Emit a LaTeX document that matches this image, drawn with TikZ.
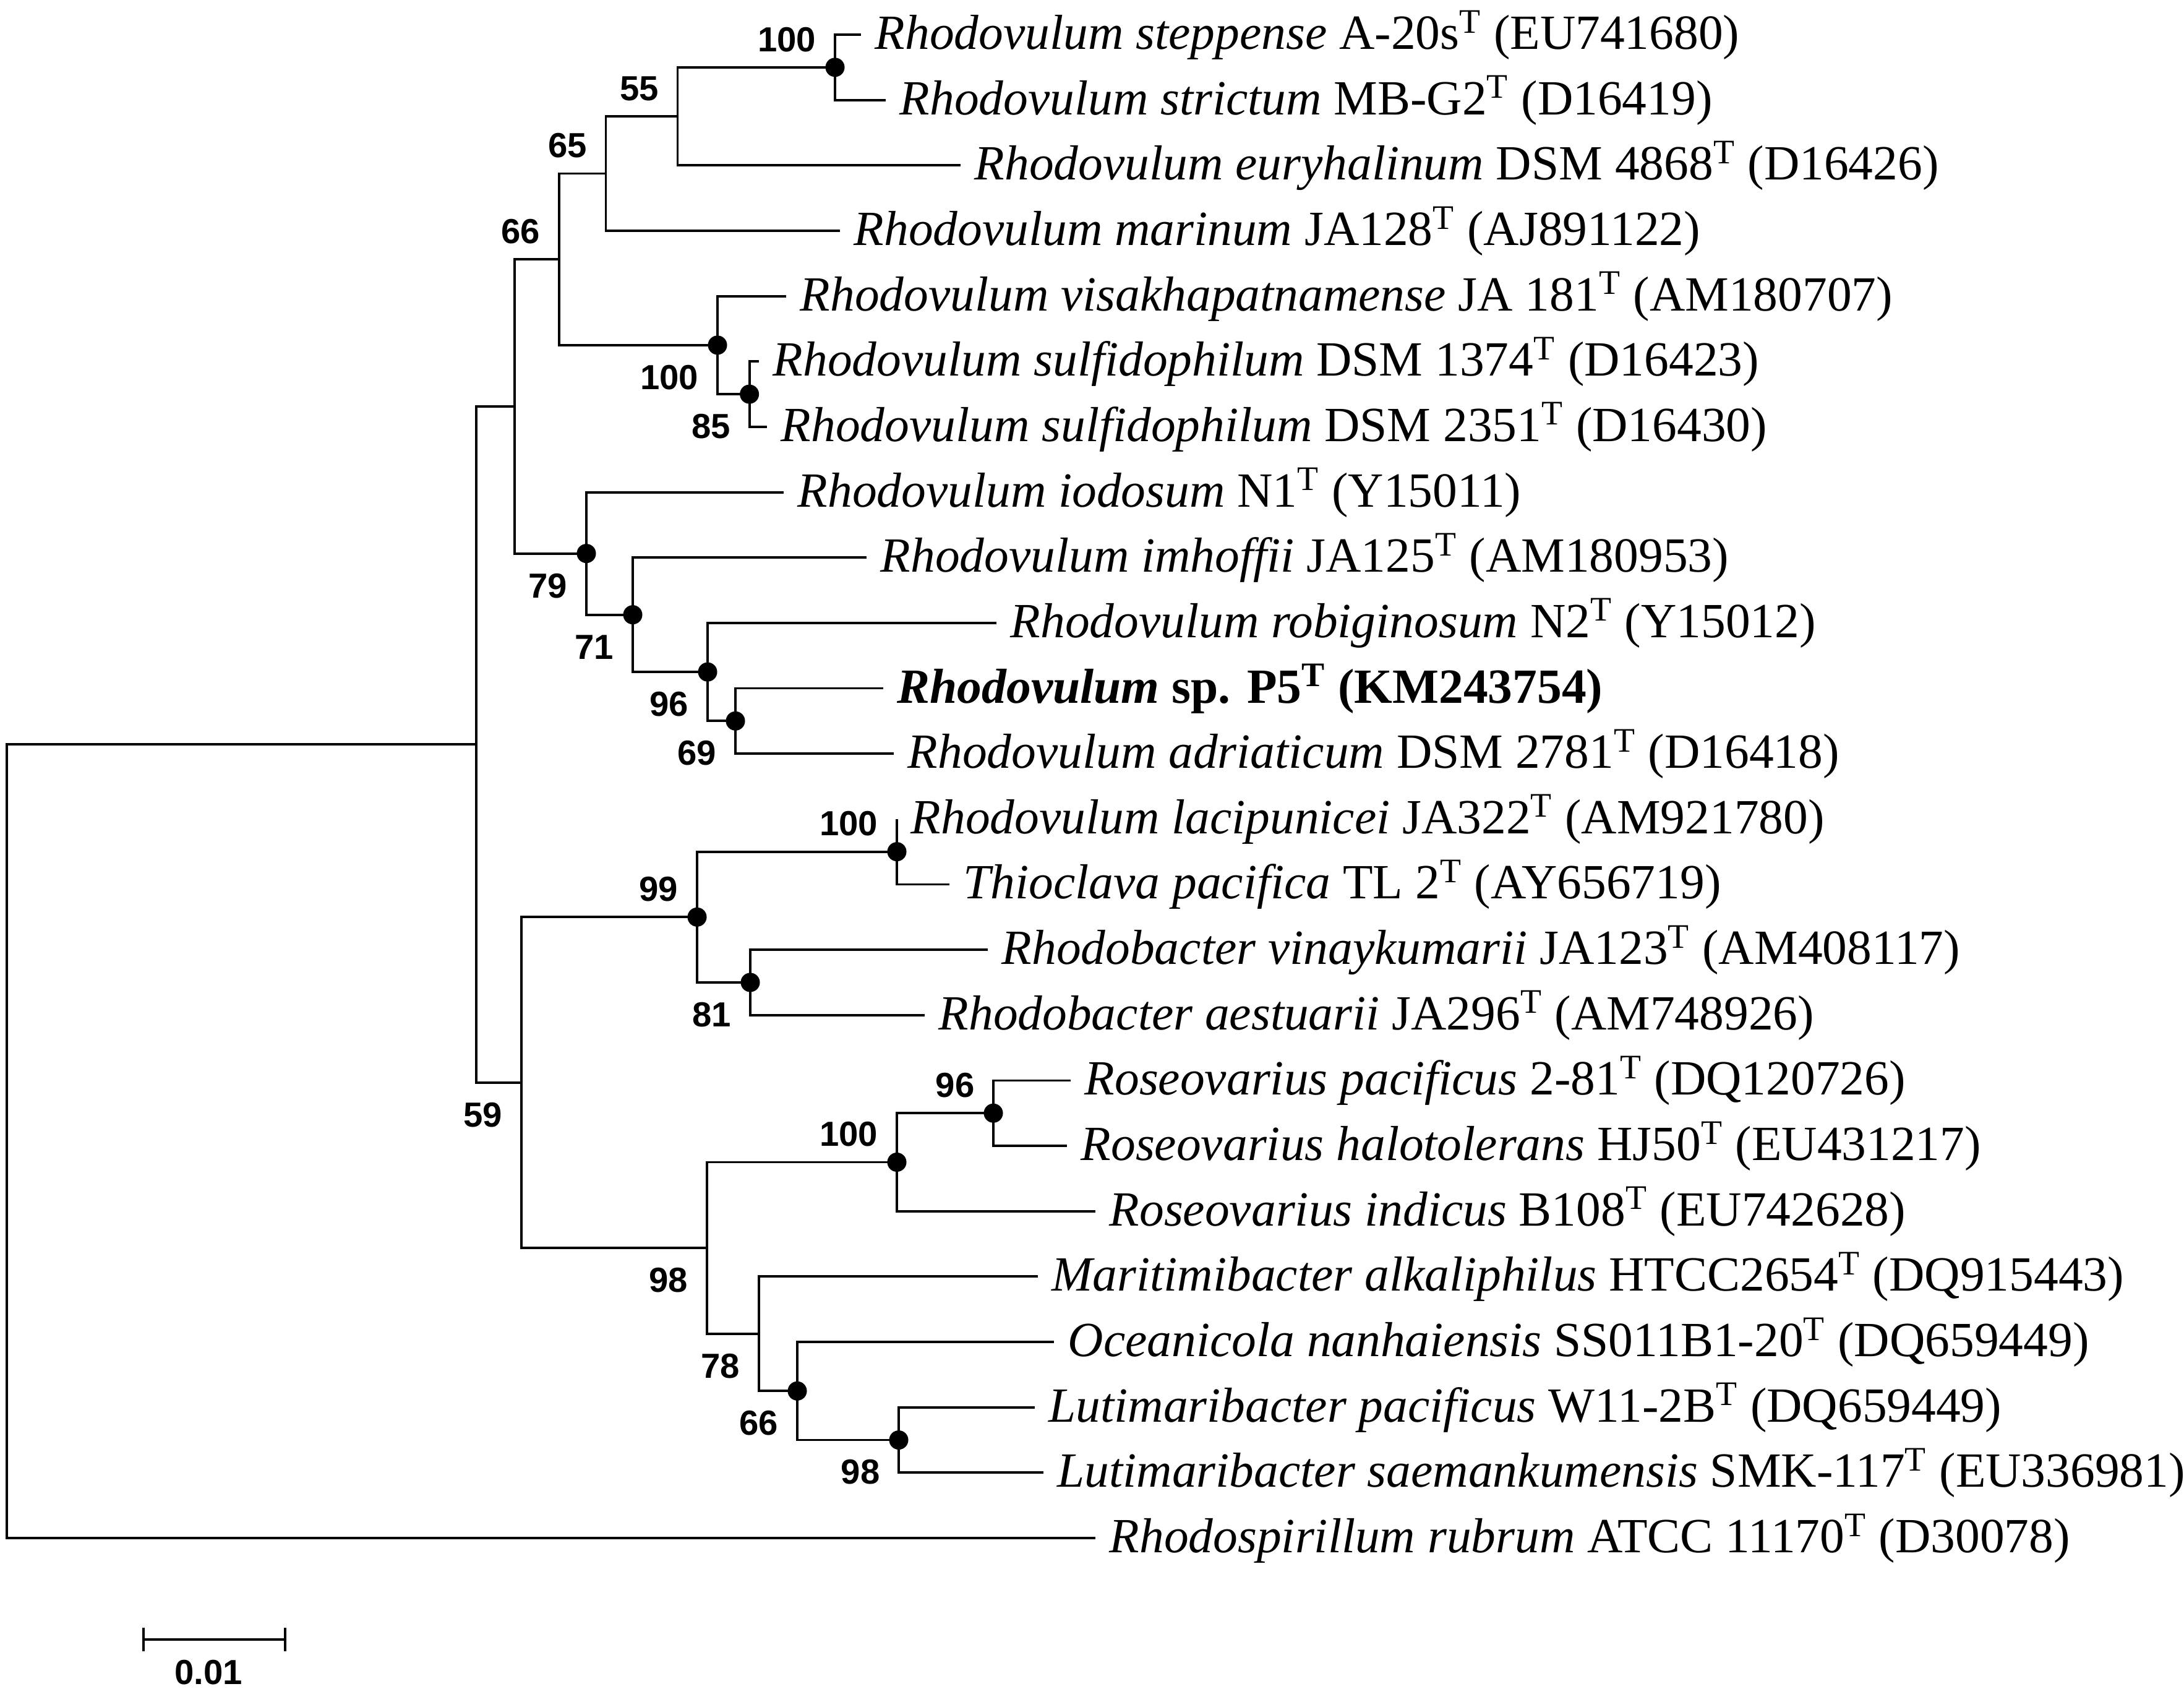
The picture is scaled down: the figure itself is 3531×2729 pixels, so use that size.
\documentclass[tikz,border=0pt]{standalone}
\usepackage{fontspec}
\setmainfont{Liberation Serif}
\newfontfamily\bsfont{Liberation Sans}
\usetikzlibrary{arrows.meta}
\newcommand{\typ}{\textsuperscript{T}}
\tikzset{
  branch/.style={line width=1.1pt},
  leaf/.style={anchor=base west, inner sep=0pt, xshift=0.22cm, yshift=-0.235cm,
    font=\fontsize{22.6}{26}\selectfont},
  bs/.style={anchor=east, inner sep=0pt, xshift=-0.3cm,
    font=\fontsize{16}{18}\selectfont\bsfont\bfseries},
  bsup/.style={bs, yshift=0.45cm},
  bsdown/.style={bs, yshift=-0.52cm},
  dot/.style={circle, fill, inner sep=0pt, minimum size=0.31cm}
}
\begin{document}
\begin{tikzpicture}[x=0.01cm, y=-0.01cm]
\useasboundingbox (0,0) rectangle (3531,2729);
% leaves
\foreach \i/\x/\name in {
  1/1392/{\textit{Rhodovulum steppense} A-20s\typ{} (EU741680)},
  2/1432/{\textit{Rhodovulum strictum} MB-G2\typ{} (D16419)},
  3/1553/{\textit{Rhodovulum euryhalinum} DSM 4868\typ{} (D16426)},
  4/1358/{\textit{Rhodovulum marinum} JA128\typ{} (AJ891122)},
  5/1271/{\textit{Rhodovulum visakhapatnamense} JA 181\typ{} (AM180707)},
  6/1227/{\textit{Rhodovulum sulfidophilum} DSM 1374\typ{} (D16423)},
  7/1240/{\textit{Rhodovulum sulfidophilum} DSM 2351\typ{} (D16430)},
  8/1267/{\textit{Rhodovulum iodosum} N1\typ{} (Y15011)},
  9/1401/{\textit{Rhodovulum imhoffii} JA125\typ{} (AM180953)},
  10/1611/{\textit{Rhodovulum robiginosum} N2\typ{} (Y15012)},
  11/1428/{\textbf{\textit{Rhodovulum} sp. P5\typ{} (KM243754)}},
  12/1445/{\textit{Rhodovulum adriaticum} DSM 2781\typ{} (D16418)},
  13/1450/{\textit{Rhodovulum lacipunicei} JA322\typ{} (AM921780)},
  14/1535/{\textit{Thioclava pacifica} TL 2\typ{} (AY656719)},
  15/1597/{\textit{Rhodobacter vinaykumarii} JA123\typ{} (AM408117)},
  16/1495/{\textit{Rhodobacter aestuarii} JA296\typ{} (AM748926)},
  17/1731/{\textit{Roseovarius pacificus} 2-81\typ{} (DQ120726)},
  18/1725/{\textit{Roseovarius halotolerans} HJ50\typ{} (EU431217)},
  19/1771/{\textit{Roseovarius indicus} B108\typ{} (EU742628)},
  20/1678/{\textit{Maritimibacter alkaliphilus} HTCC2654\typ{} (DQ915443)},
  21/1704/{\textit{Oceanicola nanhaiensis} SS011B1-20\typ{} (DQ659449)},
  22/1673/{\textit{Lutimaribacter pacificus} W11-2B\typ{} (DQ659449)},
  23/1687/{\textit{Lutimaribacter saemankumensis} SMK-117\typ{} (EU336981)},
  24/1771/{\textit{Rhodospirillum rubrum} ATCC 11170\typ{} (D30078)}}{
  \coordinate (l\i) at (\x,{56+105.65*(\i-1)});
  \node[leaf] (t\i) at (l\i) {\name};
}
% inner nodes
\coordinate (nSte) at (1350,108.8);
\coordinate (n55) at (1095.5,188.05);
\coordinate (n65) at (979.5,280.5);
\coordinate (n85) at (1211.6,637.1);
\coordinate (nVis) at (1160,557.85);
\coordinate (n66) at (903.6,419.2);
\coordinate (n69) at (1189,1165.3);
\coordinate (n96) at (1144,1086.1);
\coordinate (n71) at (1023,993.65);
\coordinate (n79) at (948,894.6);
\coordinate (nB) at (832,656.9);
\coordinate (nLac) at (1450,1376.6);
\coordinate (n81) at (1213,1587.9);
\coordinate (n99) at (1127,1482.25);
\coordinate (nRos96) at (1606,1799.2);
\coordinate (nRos) at (1450,1878.45);
\coordinate (n98b) at (1453,2327.5);
\coordinate (n66b) at (1289,2248.25);
\coordinate (n78) at (1227,2155.8);
\coordinate (n98) at (1143,2017.1);
\coordinate (n59) at (843,1749.7);
\coordinate (nA) at (770,1203.3);
\coordinate (root) at (11,1844.6);
% branches
\draw[branch] (l1) -| (nSte) |- (l2);
\draw[branch] (nSte) -| (n55) |- (l3);
\draw[branch] (n55) -| (n65) |- (l4);
\draw[branch] (n65) -| (n66) |- (nVis);
\draw[branch] (l5) -| (nVis) |- (n85);
\draw[branch] (l6) -| (n85) |- (l7);
\draw[branch] (n66) -| (nB) |- (n79);
\draw[branch] (l8) -| (n79) |- (n71);
\draw[branch] (l9) -| (n71) |- (n96);
\draw[branch] (l10) -| (n96) |- (n69);
\draw[branch] (l11) -| (n69) |- (l12);
\draw[branch] (nB) -| (nA) |- (n59);
\draw[branch] (nA) -| (root) |- (l24);
\draw[branch] (n99) -| (n59) |- (n98);
\draw[branch] (nLac) -| (n99) |- (n81);
\draw[branch] (l13) -| (nLac) |- (l14);
\draw[branch] (l15) -| (n81) |- (l16);
\draw[branch] (nRos) -| (n98) |- (n78);
\draw[branch] (nRos96) -| (nRos) |- (l19);
\draw[branch] (l17) -| (nRos96) |- (l18);
\draw[branch] (l20) -| (n78) |- (n66b);
\draw[branch] (l21) -| (n66b) |- (n98b);
\draw[branch] (l22) -| (n98b) |- (l23);
% dots
\foreach \n in {nSte,nVis,n85,n79,n71,n96,n69,nLac,n99,n81,nRos96,nRos,n66b,n98b}
  \node[dot] (d\n) at (\n) {};
% bootstrap values
\node[bsup] (bSte) at (nSte) {100};
\node[bsup] (b55) at (n55) {55};
\node[bsup] (b65) at (n65) {65};
\node[bsup] (b66) at (n66) {66};
\node[bsdown] (bVis) at (nVis) {100};
\node[bsdown] (b85) at (n85) {85};
\node[bsdown] (b79) at (n79) {79};
\node[bsdown] (b71) at (n71) {71};
\node[bsdown] (b96) at (n96) {96};
\node[bsdown] (b69) at (n69) {69};
\node[bsup] (bLac) at (nLac) {100};
\node[bsup] (b99) at (n99) {99};
\node[bsdown] (b81) at (n81) {81};
\node[bsup] (bRos96) at (nRos96) {96};
\node[bsup] (bRos) at (nRos) {100};
\node[bsdown] (b59) at (n59) {59};
\node[bsdown] (b98) at (n98) {98};
\node[bsdown] (b78) at (n78) {78};
\node[bsdown] (b66b) at (n66b) {66};
\node[bsdown] (b98b) at (n98b) {98};
% scale bar
\coordinate (sbL) at (230,2650);
\coordinate (sbR) at (463,2650);
\draw[branch, {Bar[width=0.38cm]}-{Bar[width=0.38cm]}] (sbL) -- (sbR);
\node[font=\fontsize{16}{18}\selectfont\bsfont\bfseries, inner sep=0pt] (sbT) at (337,2703) {0.01};
\end{tikzpicture}
\end{document}
